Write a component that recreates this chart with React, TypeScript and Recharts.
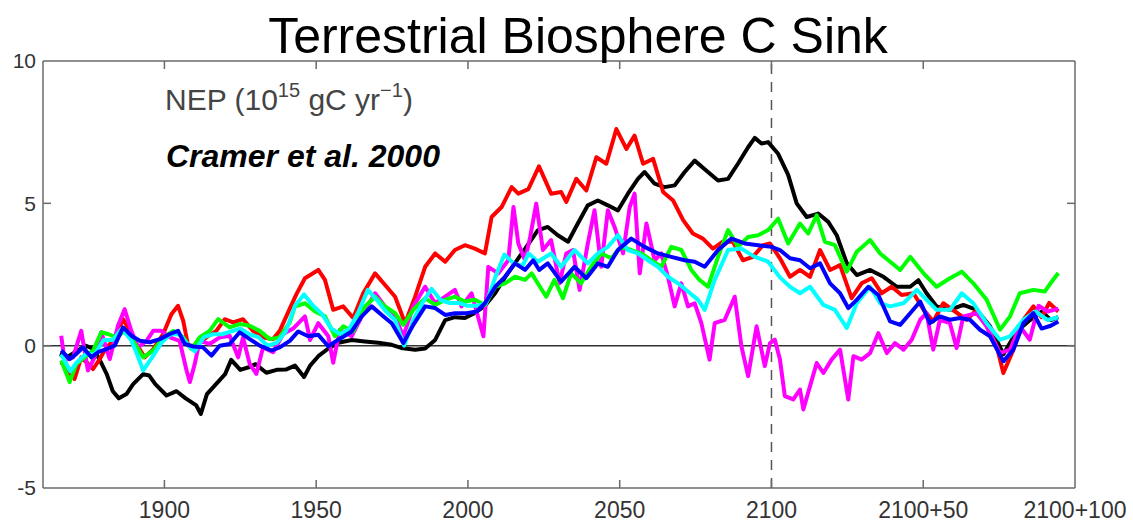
import React from "react";
import {
  LineChart,
  Line,
  XAxis,
  YAxis,
  ReferenceLine,
} from "recharts";

// NEP (10^15 gC/yr), per model run
const blackYears = [1865.5, 1868, 1871, 1874, 1876.5, 1878.7, 1881, 1883, 1885, 1887.5, 1889.7, 1893, 1895, 1897, 1900.7, 1904, 1907, 1910.5, 1912, 1914, 1917, 1920, 1922, 1925, 1928, 1930, 1933.6, 1937, 1940, 1943, 1946, 1948, 1950.7, 1954, 1957.3, 1961.7, 1966, 1970.5, 1974.9, 1978, 1982.6, 1985.9, 1989.2, 1992.5, 1995.7, 1999, 2002.3, 2005.6, 2009, 2012.2, 2015.5, 2018.8, 2023, 2026.3, 2029.6, 2033, 2036.2, 2039.5, 2042.8, 2046.1, 2049.4, 2052.7, 2056, 2058.2, 2061.5, 2064.8, 2068.1, 2071.4, 2074.7, 2078, 2082.4, 2085.7, 2089, 2092.3, 2094.5, 2096.7, 2098.9, 2102.2, 2105.5, 2108.3, 2111.6, 2115.4, 2118.7, 2121.5, 2124.8, 2128.1, 2132.5, 2136.9, 2141.3, 2145.7, 2148.4, 2151.1, 2154.4, 2158.8, 2163.2, 2167.6, 2172, 2176.4, 2180.8, 2185.2, 2189, 2192, 2194.5];
const blackNep = [-0.3, -0.4, -0.2, 0.0, -0.1, -0.5, -1.0, -1.6, -1.85, -1.7, -1.35, -1.0, -1.05, -1.35, -1.75, -1.6, -1.85, -2.1, -2.4, -1.7, -1.35, -1.0, -0.5, -0.85, -0.75, -0.65, -0.95, -0.85, -0.84, -0.7, -1.1, -0.7, -0.37, -0.1, 0.1, 0.2, 0.15, 0.1, 0.03, -0.08, -0.14, -0.1, 0.2, 0.9, 1.0, 0.97, 1.15, 1.4, 1.85, 2.4, 2.9, 3.4, 4.05, 4.17, 3.88, 3.65, 4.29, 4.93, 5.1, 4.93, 4.75, 5.34, 5.86, 6.1, 5.69, 5.57, 5.63, 6.1, 6.5, 6.2, 5.8, 5.86, 6.4, 6.97, 7.3, 7.1, 7.15, 6.74, 6.0, 5.0, 4.52, 4.64, 4.35, 3.88, 2.9, 2.48, 2.66, 2.42, 2.07, 2.07, 2.3, 1.84, 1.38, 1.26, 1.43, 1.26, 0.68, -0.3, 0.5, 0.9, 1.2, 0.9, 1.0];

const redYears = [1866, 1868.2, 1870.4, 1872.6, 1874.3, 1876.5, 1878.7, 1880.9, 1883.1, 1886.4, 1888.6, 1890.8, 1893.5, 1896.3, 1899.6, 1902.3, 1904.5, 1906.2, 1907.8, 1910.5, 1913.8, 1917.1, 1919.9, 1922.6, 1925.9, 1929.2, 1932.5, 1935.8, 1938, 1941.3, 1943.5, 1946.3, 1950.7, 1952.9, 1955.6, 1958.9, 1962.2, 1965.5, 1969.4, 1972.7, 1976, 1979.3, 1982.6, 1985.9, 1989.2, 1992.5, 1995.7, 1999, 2002.3, 2005.6, 2007.8, 2011.1, 2014.4, 2016.6, 2019.9, 2023.4, 2027.4, 2030.7, 2032.4, 2035.7, 2039, 2042.3, 2045.6, 2048.9, 2052.2, 2054.9, 2057.7, 2061, 2064.3, 2067.6, 2070.9, 2074.1, 2077.4, 2080.7, 2084, 2087.3, 2090.6, 2093.9, 2097.2, 2099.5, 2102.8, 2106.1, 2109.4, 2112.7, 2116, 2119.3, 2122.6, 2126.4, 2129.7, 2133, 2136.3, 2139.6, 2142.9, 2146.8, 2150.1, 2153.3, 2156.6, 2160.5, 2164.3, 2167.6, 2170.9, 2174.2, 2176.4, 2179.7, 2183, 2186.3, 2189, 2191.5, 2194.5];
const redNep = [-0.58, -0.87, -1.17, -0.41, -0.58, -0.82, -0.47, -0.06, 0.17, 0.93, 0.52, 0.06, -0.41, -0.12, 0.41, 1.1, 1.4, 0.87, 0.0, 0.0, 0.29, 0.52, 0.93, 0.82, 0.93, 0.52, 0.29, 0.23, 0.52, 1.3, 1.81, 2.37, 2.66, 2.31, 1.26, 1.38, 0.97, 1.84, 2.54, 2.13, 1.72, 0.79, 1.72, 2.77, 3.24, 2.95, 3.36, 3.53, 3.41, 3.24, 4.52, 4.87, 5.57, 5.34, 5.5, 6.3, 5.34, 5.4, 5.05, 5.86, 5.45, 6.62, 6.39, 7.61, 6.91, 7.38, 6.39, 6.56, 5.4, 5.1, 4.41, 3.94, 3.76, 3.41, 3.65, 3.65, 3.0, 3.12, 3.53, 3.59, 3.07, 2.42, 2.66, 2.42, 3.36, 2.66, 2.83, 1.67, 2.19, 2.37, 1.84, 2.07, 1.78, 1.84, 1.26, 0.85, 1.49, 1.2, 0.91, 1.26, 0.68, -0.02, -0.96, -0.14, 0.91, 1.38, 1.0, 1.5, 1.2];

const magentaYears = [1866, 1867.1, 1869.9, 1872.6, 1874.8, 1877, 1879.2, 1882, 1884.7, 1886.9, 1889.1, 1891.3, 1894.1, 1896.3, 1899, 1901.8, 1905, 1907.3, 1908.4, 1910, 1911.6, 1914.9, 1918.2, 1921.5, 1924.3, 1925.9, 1928.1, 1930.3, 1932.5, 1935.8, 1939.1, 1942.4, 1946.3, 1948, 1950.7, 1954, 1955.6, 1957.8, 1961.7, 1966.1, 1969.4, 1972.7, 1976, 1978.7, 1982, 1985.9, 1989.2, 1992.5, 1995.7, 1997.9, 2001.2, 2004.5, 2005.1, 2006.7, 2010, 2013.3, 2015, 2016.6, 2018.8, 2020.5, 2022.5, 2024.7, 2027.4, 2030.2, 2032.4, 2034.6, 2036.8, 2039.5, 2041.7, 2043.9, 2046.1, 2048.3, 2051.1, 2053.3, 2054.9, 2056.6, 2058.8, 2061.5, 2063.7, 2065.9, 2068.1, 2070.3, 2072.5, 2074.7, 2076.9, 2079.6, 2081.3, 2084.6, 2087.9, 2090.1, 2092.3, 2095.1, 2097.8, 2099.5, 2101.1, 2102.8, 2104.4, 2107.2, 2109.4, 2110.5, 2112.7, 2114.9, 2117.1, 2119.8, 2122.6, 2125.3, 2127, 2129.7, 2132.5, 2135.2, 2138, 2140.7, 2143.5, 2146.2, 2149, 2151.1, 2153.3, 2155.5, 2158.8, 2161, 2163.2, 2167.6, 2170.9, 2175.3, 2178.6, 2181.8, 2185.1, 2188, 2191, 2194.5];
const magentaNep = [0.35, -0.52, -0.41, 0.52, -0.87, -0.41, 0.47, -0.47, 0.7, 1.28, 0.52, -0.06, 0.17, 0.52, 0.52, 0.29, 0.17, -0.87, -1.28, -0.64, 0.17, 0.06, 0.29, 0.35, -0.41, 0.29, -0.64, -0.99, -0.06, -0.23, 0.41, 0.6, 1.03, 0.2, 0.79, 0.33, -0.6, 0.56, 0.33, 1.26, 1.84, 1.38, 1.03, 0.33, 1.38, 2.07, 1.49, 1.72, 1.96, 1.38, 1.84, 0.56, 0.33, 2.77, 2.54, 3.0, 4.87, 3.59, 3.0, 3.82, 4.99, 3.36, 3.71, 2.19, 3.24, 3.36, 1.96, 3.59, 4.76, 2.77, 4.76, 4.17, 3.24, 4.87, 5.34, 2.54, 4.29, 3.0, 3.24, 2.42, 1.38, 2.19, 1.38, 1.49, 0.79, -0.49, 0.79, 0.91, 1.72, -0.02, -1.07, 0.68, -0.72, 0.09, 0.21, -0.49, -1.77, -1.89, -1.54, -2.24, -1.42, -0.61, -0.96, -0.49, -0.14, -1.89, -0.37, -0.49, -0.26, 0.44, -0.26, 0.09, -0.14, 0.21, 0.91, 1.14, -0.14, 0.91, 0.79, -0.08, 1.03, 1.14, 0.68, -0.26, -0.14, 0.68, 0.21, 1.4, 1.2, 1.3];

const cyanYears = [1866, 1869, 1871, 1874, 1877, 1880, 1883, 1886, 1889, 1891, 1893, 1896, 1899, 1902, 1905, 1908, 1910, 1913, 1916, 1919, 1922, 1925, 1928, 1931, 1934, 1937, 1940, 1943, 1946, 1949, 1952, 1955, 1958, 1961, 1964, 1967, 1970, 1973, 1976, 1979, 1982, 1985, 1988, 1991, 1994, 1997, 2000, 2003, 2006, 2009, 2012, 2015, 2018, 2020, 2023, 2027.4, 2030.7, 2035.1, 2039.5, 2042.8, 2046.1, 2049.4, 2052.7, 2056, 2059.3, 2062.6, 2065.9, 2069.2, 2072.5, 2075.8, 2078, 2081.3, 2085.7, 2090.1, 2094.5, 2098.9, 2102.8, 2106.1, 2109.4, 2112.7, 2117.1, 2120.9, 2124.8, 2128.1, 2132.5, 2135.8, 2139.1, 2143.5, 2147.9, 2151.1, 2154.4, 2158.8, 2162.7, 2166.5, 2170.9, 2175.3, 2178.6, 2183, 2187, 2191, 2194.5];
const cyanNep = [-0.3, -0.9, -0.6, -0.3, -0.3, 0.2, 0.2, 0.6, 0.2, -0.3, -0.87, -0.4, 0.1, 0.4, 0.4, 0.0, -0.2, 0.3, 0.4, 0.4, 0.5, 0.6, 0.4, 0.3, 0.0, 0.1, 0.5, 1.4, 1.8, 1.4, 1.1, 0.6, 0.4, 0.6, 1.2, 1.96, 1.6, 1.2, 0.9, 0.0, 0.9, 1.5, 2.0, 1.6, 1.5, 1.5, 1.4, 1.4, 1.5, 2.4, 3.2, 2.9, 2.8, 3.24, 2.95, 3.24, 2.77, 3.36, 2.89, 3.24, 3.47, 3.88, 3.36, 3.24, 3.0, 2.77, 2.42, 2.19, 1.9, 1.61, 1.26, 2.31, 3.36, 3.41, 3.12, 2.95, 2.4, 2.07, 1.84, 2.07, 1.43, 1.26, 0.62, 1.49, 2.07, 1.49, 1.38, 1.49, 1.96, 1.61, 1.26, 1.26, 1.84, 1.49, 0.79, 0.21, 0.33, 0.91, 1.2, 0.9, 1.0];

const greenYears = [1866, 1868.8, 1871, 1873.7, 1876.5, 1879.2, 1881.4, 1884.2, 1886.9, 1889.7, 1893, 1896.3, 1899.6, 1902.9, 1906.2, 1908.9, 1911.6, 1914.9, 1917.7, 1921.5, 1924.8, 1928.1, 1931.4, 1934.7, 1938, 1941.3, 1943, 1946.3, 1949.6, 1952.9, 1956.2, 1958.9, 1962.2, 1966.1, 1969.4, 1972.7, 1976, 1978.7, 1982, 1985.9, 1989.2, 1992.5, 1995.7, 1999, 2002.3, 2005.6, 2009, 2012.2, 2015.5, 2018.8, 2021, 2023, 2025.8, 2028.5, 2031.3, 2034, 2037.3, 2040.6, 2043.9, 2047.2, 2050.5, 2053.8, 2057.1, 2060.4, 2063.7, 2067, 2070.3, 2073.6, 2076.3, 2079.1, 2082.4, 2085.7, 2089, 2092.3, 2095.6, 2098.9, 2102.2, 2105.5, 2109.4, 2112.1, 2114.9, 2117.6, 2120.9, 2124.8, 2128.1, 2132.5, 2135.8, 2139.1, 2142.4, 2145.7, 2150.1, 2154.4, 2158.8, 2162.7, 2166.5, 2170.9, 2175.3, 2178.6, 2181.8, 2186.3, 2190, 2192, 2194.5];
const greenNep = [-0.52, -1.28, -0.64, -0.41, -0.17, 0.47, 0.41, 0.29, 0.52, 0.17, -0.41, -0.17, 0.29, 0.52, 0.29, -0.12, 0.29, 0.52, 0.93, 0.64, 0.76, 0.7, 0.52, 0.23, 0.29, 0.82, 1.38, 1.49, 1.2, 1.03, 0.33, 0.68, 0.5, 1.38, 1.72, 1.38, 1.14, 0.73, 1.26, 1.67, 1.43, 1.61, 1.72, 1.55, 1.61, 1.43, 2.07, 2.19, 2.42, 2.31, 2.54, 2.19, 1.72, 2.31, 1.67, 2.54, 2.19, 2.77, 3.24, 3.07, 3.47, 3.36, 3.24, 3.0, 2.77, 3.47, 3.36, 2.66, 2.31, 2.07, 3.12, 4.06, 3.47, 3.82, 3.88, 4.06, 4.46, 3.59, 4.29, 3.94, 4.58, 3.65, 3.53, 2.6, 3.3, 3.71, 3.24, 2.95, 2.66, 3.12, 2.54, 2.07, 2.37, 2.6, 2.19, 1.61, 0.56, 1.03, 1.84, 1.96, 1.9, 2.2, 2.55];

const blueYears = [1866, 1868.8, 1871, 1873.2, 1875.9, 1878.1, 1880.9, 1883.6, 1886.4, 1889.1, 1891.9, 1895.2, 1898.5, 1901.8, 1904.5, 1906.7, 1909.5, 1912.7, 1915.5, 1918.2, 1921.5, 1924.8, 1928.1, 1931.4, 1935.3, 1938, 1941.3, 1944.1, 1947.4, 1950.7, 1954, 1957.3, 1961.7, 1965, 1968.3, 1971.6, 1974.9, 1978.7, 1982, 1985.9, 1989.2, 1992.5, 1995.7, 1999.6, 2002.9, 2005.6, 2009, 2012.2, 2015.5, 2018.8, 2021.5, 2023.5, 2026.3, 2030.7, 2035.1, 2039, 2042.8, 2046.1, 2049.4, 2053.8, 2058.2, 2062.6, 2067, 2071.4, 2074.7, 2078, 2082.4, 2086.8, 2091.2, 2095.6, 2100, 2102.8, 2106.1, 2109.4, 2112.7, 2116, 2119.3, 2122.6, 2125.3, 2128.1, 2131.9, 2135.2, 2139.1, 2142.4, 2145.7, 2149, 2152.2, 2155.5, 2158.8, 2162.1, 2165.4, 2168.7, 2172, 2176.4, 2179.7, 2183, 2186.3, 2189, 2192, 2194.5];
const blueNep = [-0.17, -0.47, -0.29, -0.06, -0.41, -0.23, -0.12, 0.0, 0.64, 0.35, 0.17, 0.12, 0.23, 0.41, 0.52, 0.06, -0.03, -0.06, -0.35, 0.0, 0.06, 0.47, 0.23, 0.0, -0.17, -0.06, 0.17, 0.5, 0.33, 0.38, -0.02, 0.21, 0.5, 1.03, 1.38, 1.08, 0.79, 0.09, 0.73, 1.38, 1.32, 1.08, 1.14, 1.14, 1.2, 1.49, 2.07, 2.42, 2.89, 2.66, 3.0, 2.66, 2.89, 2.25, 2.77, 2.37, 2.89, 2.77, 3.36, 3.76, 3.47, 3.24, 3.12, 3.0, 2.95, 2.77, 3.36, 3.76, 3.59, 3.53, 3.47, 3.36, 3.07, 3.0, 2.72, 2.89, 2.19, 1.84, 1.32, 1.61, 2.07, 1.78, 0.85, 0.73, 1.14, 1.55, 0.79, 1.03, 0.91, 0.97, 0.91, 0.56, 0.33, -0.55, -0.14, 0.79, 1.14, 0.6, 0.7, 0.85];

const xTicks = [1900, 1950, 2000, 2050, 2100, 2150, 2200];
const xInnerTicks = [1900, 1950, 2000, 2050, 2100, 2150];
const yTicks = [-5, 0, 5, 10];
const yInnerTicks = [0, 5];

const toSeries = (years: number[], values: number[]) =>
  years.map((year, i) => ({ year, nep: values[i] }));

const series = [
  { name: "black", color: "#000000", data: toSeries(blackYears, blackNep) },
  { name: "red", color: "#ff0000", data: toSeries(redYears, redNep) },
  { name: "magenta", color: "#ff00ff", data: toSeries(magentaYears, magentaNep) },
  { name: "green", color: "#00ff00", data: toSeries(greenYears, greenNep) },
  { name: "cyan", color: "#00ffff", data: toSeries(cyanYears, cyanNep) },
  { name: "blue", color: "#0000ff", data: toSeries(blueYears, blueNep) },
];

const fmtYear = (v: number) => (v > 2100 ? `2100+${v - 2100}` : `${v}`);

const FONT = "'Liberation Sans', Arial, Helvetica, sans-serif";
const AXIS = "#6a6a6a";
const DOMAIN_X: [number, number] = [1860, 2200];
const DOMAIN_Y: [number, number] = [-5, 10];

// tick marks only, no label (MATLAB-style inward ticks)
const noLabel = () => <g />;

export default function App() {
  return (
    <div style={{ position: "absolute", left: 0, top: 0, width: 1133, height: 522, background: "#fff" }}>
      <LineChart
        width={1133}
        height={522}
        margin={{ top: 61, right: 58, bottom: 0, left: 0 }}
      >
        <XAxis
          xAxisId="x"
          type="number"
          dataKey="year"
          domain={DOMAIN_X}
          ticks={xTicks}
          tickFormatter={fmtYear}
          height={34}
          tickSize={0}
          tickMargin={14}
          tickLine={false}
          axisLine={{ stroke: AXIS, strokeWidth: 1.5 }}
          tick={{ fontSize: 23, fill: "#333", fontFamily: FONT }}
          interval={0}
          allowDataOverflow
        />
        <XAxis
          xAxisId="xin"
          type="number"
          dataKey="year"
          domain={DOMAIN_X}
          ticks={xInnerTicks}
          mirror
          tick={noLabel}
          tickSize={8}
          axisLine={false}
          tickLine={{ stroke: AXIS, strokeWidth: 1.5 }}
          interval={0}
          allowDataOverflow
        />
        <XAxis
          xAxisId="xtop"
          orientation="top"
          type="number"
          dataKey="year"
          domain={DOMAIN_X}
          ticks={xInnerTicks}
          mirror
          tick={noLabel}
          tickSize={8}
          axisLine={{ stroke: AXIS, strokeWidth: 1.5 }}
          tickLine={{ stroke: AXIS, strokeWidth: 1.5 }}
          interval={0}
          allowDataOverflow
        />
        <YAxis
          yAxisId="y"
          type="number"
          domain={DOMAIN_Y}
          ticks={yTicks}
          width={43}
          tickSize={0}
          tickMargin={7}
          tickLine={false}
          axisLine={{ stroke: AXIS, strokeWidth: 1.5 }}
          tick={{ fontSize: 21, fill: "#333", fontFamily: FONT }}
          interval={0}
          allowDataOverflow
        />
        <YAxis
          yAxisId="yin"
          type="number"
          domain={DOMAIN_Y}
          ticks={yInnerTicks}
          mirror
          tick={noLabel}
          tickSize={8}
          axisLine={false}
          tickLine={{ stroke: AXIS, strokeWidth: 1.5 }}
          interval={0}
          allowDataOverflow
        />
        <YAxis
          yAxisId="yright"
          orientation="right"
          type="number"
          domain={DOMAIN_Y}
          ticks={yInnerTicks}
          mirror
          tick={noLabel}
          tickSize={8}
          axisLine={{ stroke: AXIS, strokeWidth: 1.5 }}
          tickLine={{ stroke: AXIS, strokeWidth: 1.5 }}
          interval={0}
          allowDataOverflow
        />
        <ReferenceLine xAxisId="x" yAxisId="y" y={0} stroke="#333" strokeWidth={1.5} />
        <ReferenceLine
          xAxisId="x"
          yAxisId="y"
          x={2100}
          stroke="#555"
          strokeWidth={1.5}
          strokeDasharray="10 8"
        />
        {/* invisible series so the tick-only frame axes get a scale */}
        <Line
          xAxisId="xin"
          yAxisId="yin"
          data={series[0].data}
          dataKey="nep"
          stroke="none"
          dot={false}
          activeDot={false}
          isAnimationActive={false}
        />
        <Line
          xAxisId="xtop"
          yAxisId="yright"
          data={series[0].data}
          dataKey="nep"
          stroke="none"
          dot={false}
          activeDot={false}
          isAnimationActive={false}
        />
        {series.map((s) => (
          <Line
            key={s.name}
            xAxisId="x"
            yAxisId="y"
            data={s.data}
            dataKey="nep"
            type="linear"
            stroke={s.color}
            strokeWidth={4}
            strokeLinejoin="round"
            dot={false}
            activeDot={false}
            isAnimationActive={false}
          />
        ))}
      </LineChart>
      <svg
        width={1133}
        height={522}
        style={{ position: "absolute", left: 0, top: 0, pointerEvents: "none" }}
      >
        <text x={578} y={53} textAnchor="middle" fontSize={50} fontFamily={FONT} fill="#000">
          Terrestrial Biosphere C Sink
        </text>
        <text x={165} y={110} fontSize={30} fontFamily={FONT} fill="#444">
          NEP (10
          <tspan fontSize={20} dy={-13}>15</tspan>
          <tspan dy={13}> gC yr</tspan>
          <tspan fontSize={20} dy={-13}>−1</tspan>
          <tspan dy={13}>)</tspan>
        </text>
        <text
          x={166}
          y={167}
          fontSize={32}
          fontFamily={FONT}
          fontWeight="bold"
          fontStyle="italic"
          fill="#000"
        >
          Cramer et al. 2000
        </text>
      </svg>
    </div>
  );
}
